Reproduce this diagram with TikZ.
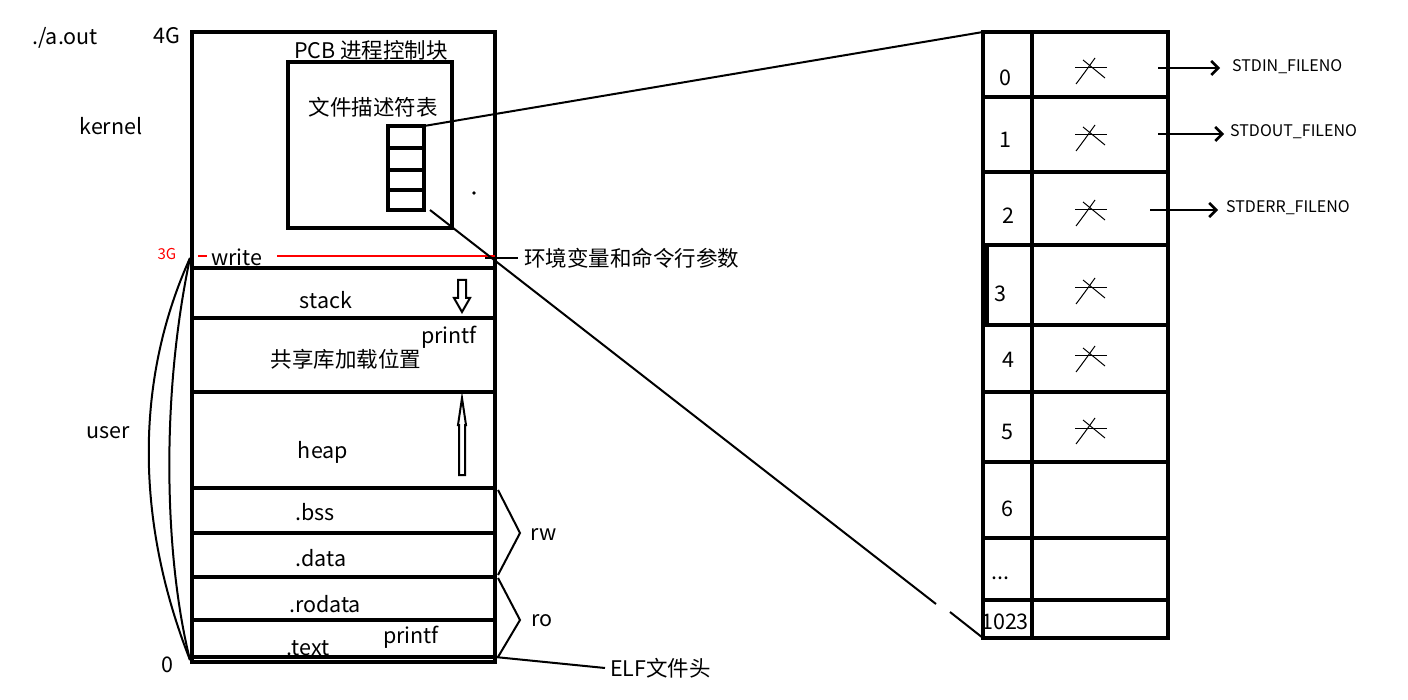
\documentclass[tikz,border=0pt]{standalone}
\usepackage{fontspec}
\setmainfont{Noto Sans CJK SC}
\usetikzlibrary{arrows.meta}
\begin{document}
\begin{tikzpicture}[x=1pt,y=-1pt,
  thk/.style={line width=3.2pt},
  lbl/.style={font=\fontsize{21.5}{23}\selectfont, inner sep=0pt},
  slbl/.style={font=\fontsize{16}{18}\selectfont, inner sep=0pt, anchor=west},
  cross/.style={line width=1pt}]
\useasboundingbox (0,0) rectangle (1408,700);
% memory block
\draw[thk] (192,32) rectangle (495,662);
\foreach \y in {268,318,392,488,533,577,620,657}
  \draw[thk] (192,\y) -- (495,\y);
% PCB
\draw[thk] (288,62) rectangle (452,228);
\draw[thk] (388,126) rectangle (424,210);
\foreach \y in {148,170,190} \draw[thk] (388,\y) -- (424,\y);
\fill (474,193) circle (1.8pt);
% red line
\draw[red, line width=2.6pt] (277,256) -- (495,256);
\draw[red, line width=1.8pt] (198,256) -- (207,256);
% hollow arrows
\draw[line width=2pt] (458,280) -- (466,280) -- (466,298) -- (470,298) -- (462,312) -- (454,298) -- (458,298) -- cycle;
\draw[line width=2pt] (459,475) -- (465,475) -- (465,425) -- (466,425) -- (462,398) -- (458,425) -- (459,425) -- cycle;
% user curve
\draw[line width=2pt] (190,258) .. controls (135,380) and (135,520) .. (190,660);
\draw[line width=2pt] (190,258) .. controls (160,400) and (165,560) .. (190,660);
% braces
\draw[line width=2pt] (498,490) -- (520,533) -- (498,575);
\draw[line width=2pt] (498,578) -- (520,620) -- (498,657);
% long lines
\draw[line width=2pt] (424,126) -- (983,32);
\draw[line width=2pt] (430,210) -- (936,604);
\draw[line width=2pt] (950,612) -- (983,638);
\draw[line width=2pt] (485,258) -- (518,258);
\draw[line width=2pt] (495,657) -- (605,668);
% right table
\draw[thk] (983,32) rectangle (1168,638);
\draw[thk] (1032,32) -- (1032,638);
\foreach \y in {97,172,245,325,392,462,538,600} \draw[thk] (983,\y) -- (1168,\y);
\draw[thk] (987,245) -- (987,325);
% crosses
\foreach \y in {68,135,210,288,356,428} {
  \draw[cross] (1075,\y) -- (1107,\y);
  \draw[cross] (1076,\y+16) .. controls (1085,\y+4) .. (1095,\y-10);
  \draw[cross] (1083,\y-8) -- (1105,\y+10);
}
% std arrows
\draw[line width=2.5pt, -{Straight Barb[length=7pt,width=14pt]}] (1158,68) -- (1220,68);
\draw[line width=2.5pt, -{Straight Barb[length=7pt,width=14pt]}] (1158,134) -- (1224,134);
\draw[line width=2.5pt, -{Straight Barb[length=7pt,width=14pt]}] (1150,210) -- (1218,210);
\node[slbl] (s0) at (1232,67) {STDIN\_FILENO};
\node[slbl] (s1) at (1230,132) {STDOUT\_FILENO};
\node[slbl] (s2) at (1226,208) {STDERR\_FILENO};
% index labels
\node[lbl] (i0) at (1005,78) {0};
\node[lbl] (i1) at (1005,140) {1};
\node[lbl] (i2) at (1008,216) {2};
\node[lbl] (i3) at (1000,294) {3};
\node[lbl] (i4) at (1008,360) {4};
\node[lbl] (i5) at (1007,432) {5};
\node[lbl] (i6) at (1007,509) {6};
\node[lbl] (i7) at (1000,578) {...};
\node[lbl] (i8) at (1005,622) {1023};
% left labels
\node[lbl] (aout) at (65,38) {./a.out};
\node[lbl] (g4) at (167,36) {4G};
\node[lbl] (kern) at (111,126) {kernel};
\node[font=\fontsize{15}{17}\selectfont, text=red, inner sep=0pt] (g3) at (167,254) {3G};
\node[lbl] (user) at (108,433) {user};
\node[lbl] (zero) at (167,665) {0};
\node[lbl] (pcb) at (371,50) {PCB 进程控制块};
\node[lbl] (fdt) at (373,107) {文件描述符表};
\node[lbl] (wr) at (237,257) {write};
\node[lbl] (stk) at (326,300) {stack};
\node[lbl] (pf1) at (449,337) {printf};
\node[lbl] (shl) at (346,359) {共享库加载位置};
\node[lbl] (hp) at (323,452) {heap};
\node[lbl] (bss) at (315,512) {.bss};
\node[lbl] (dat) at (321,558) {.data};
\node[lbl] (rod) at (325,604) {.rodata};
\node[lbl] (txt) at (308,648) {.text};
\node[lbl] (pf2) at (411,637) {printf};
\node[lbl, anchor=west] (env) at (524,258) {环境变量和命令行参数};
\node[lbl] (rw) at (544,535) {rw};
\node[lbl] (ro) at (542,621) {ro};
\node[lbl, anchor=west] (elf) at (610,668) {ELF文件头};
\end{tikzpicture}
\end{document}
